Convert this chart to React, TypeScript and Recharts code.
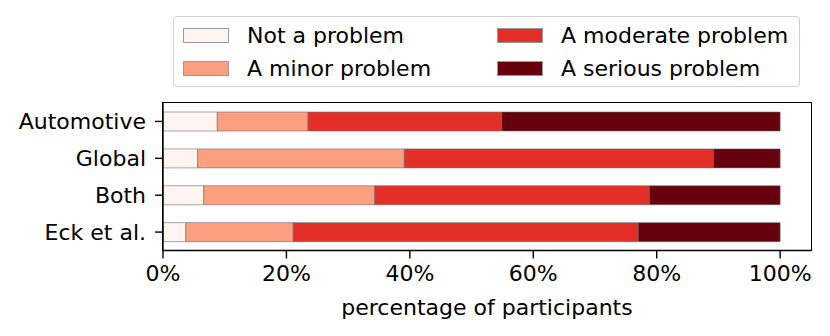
import { Bar, BarChart, Label, XAxis, YAxis } from 'recharts';

const categories = ['Automotive', 'Global', 'Both', 'Eck et al.'];
const notAProblem = [8.8, 5.6, 6.6, 3.7];
const minorProblem = [14.7, 33.5, 27.7, 17.4];
const moderateProblem = [31.4, 50.1, 44.5, 55.9];
const seriousProblem = [45.1, 10.8, 21.2, 23.0];
const xTicks = [0, 20, 40, 60, 80, 100];

const series = [
  { key: 'notAProblem', name: 'Not a problem', color: '#fff5f0', values: notAProblem },
  { key: 'minorProblem', name: 'A minor problem', color: '#fc9f81', values: minorProblem },
  { key: 'moderateProblem', name: 'A moderate problem', color: '#e32f27', values: moderateProblem },
  { key: 'seriousProblem', name: 'A serious problem', color: '#67000d', values: seriousProblem },
];

const data = categories.map((name, i) => {
  const row: Record<string, string | number> = { name };
  series.forEach((s) => {
    row[s.key] = s.values[i];
  });
  return row;
});

const font = 'DejaVu Sans, sans-serif';
const tickStyle = { fontFamily: font, fontSize: 22, fill: '#000' };

// plot area box (matches chart margins below)
const plot = { left: 163, top: 103, right: 811, bottom: 250.5 };

// legend: 2 columns, filled column by column like matplotlib
const legendCols = [182, 496];
const legendRows = [34.5, 67.5];

function LegendBox() {
  return (
    <div
      style={{
        position: 'absolute',
        left: 173,
        top: 16,
        width: 627,
        height: 71,
        border: '1px solid #d0d0d0',
        borderRadius: 4,
        boxSizing: 'border-box',
      }}
    >
      {series.map((s, i) => (
        <div
          key={s.key}
          style={{
            position: 'absolute',
            left: legendCols[Math.floor(i / 2)] - 173,
            top: legendRows[i % 2] - 16 - 13,
            height: 26,
            display: 'flex',
            alignItems: 'center',
            whiteSpace: 'nowrap',
            fontFamily: font,
            fontSize: 22,
            color: '#000',
          }}
        >
          <span
            style={{
              display: 'inline-block',
              width: 46,
              height: 15,
              background: s.color,
              border: '1px solid #999',
              boxSizing: 'border-box',
              marginRight: 18,
            }}
          />
          {s.name}
        </div>
      ))}
    </div>
  );
}

export default function App() {
  return (
    <div style={{ position: 'absolute', left: 0, top: 0, width: 830, height: 336, background: '#fff' }}>
      <BarChart
        width={830}
        height={336}
        data={data}
        layout="vertical"
        margin={{ top: plot.top, right: 830 - plot.right, bottom: 336 - plot.bottom - 40, left: plot.left - 150 }}
      >
        <XAxis
          type="number"
          domain={[0, 105]}
          ticks={xTicks}
          tickFormatter={(v) => `${v}%`}
          height={40}
          tick={tickStyle}
          tickSize={8}
          tickMargin={7}
          axisLine={{ stroke: '#000', strokeWidth: 1.4 }}
          tickLine={{ stroke: '#000', strokeWidth: 1.4 }}
        >
          <Label
            value="percentage of participants"
            position="bottom"
            offset={9}
            style={{ fontFamily: font, fontSize: 22, fill: '#000' }}
          />
        </XAxis>
        <YAxis
          type="category"
          dataKey="name"
          width={150}
          tick={tickStyle}
          tickSize={8}
          tickMargin={9}
          axisLine={{ stroke: '#000', strokeWidth: 1.4 }}
          tickLine={{ stroke: '#000', strokeWidth: 1.4 }}
        />
        {series.map((s) => (
          <Bar
            key={s.key}
            dataKey={s.key}
            name={s.name}
            stackId="a"
            fill={s.color}
            stroke="#6b6b6b"
            strokeWidth={0.6}
            barSize={19}
            isAnimationActive={false}
          />
        ))}
      </BarChart>
      <div
        style={{
          position: 'absolute',
          left: plot.left - 0.7,
          top: plot.top - 0.7,
          width: plot.right - plot.left + 1.4,
          height: plot.bottom - plot.top + 1.4,
          border: '1.4px solid #000',
          boxSizing: 'border-box',
          pointerEvents: 'none',
        }}
      />
      <LegendBox />
    </div>
  );
}
